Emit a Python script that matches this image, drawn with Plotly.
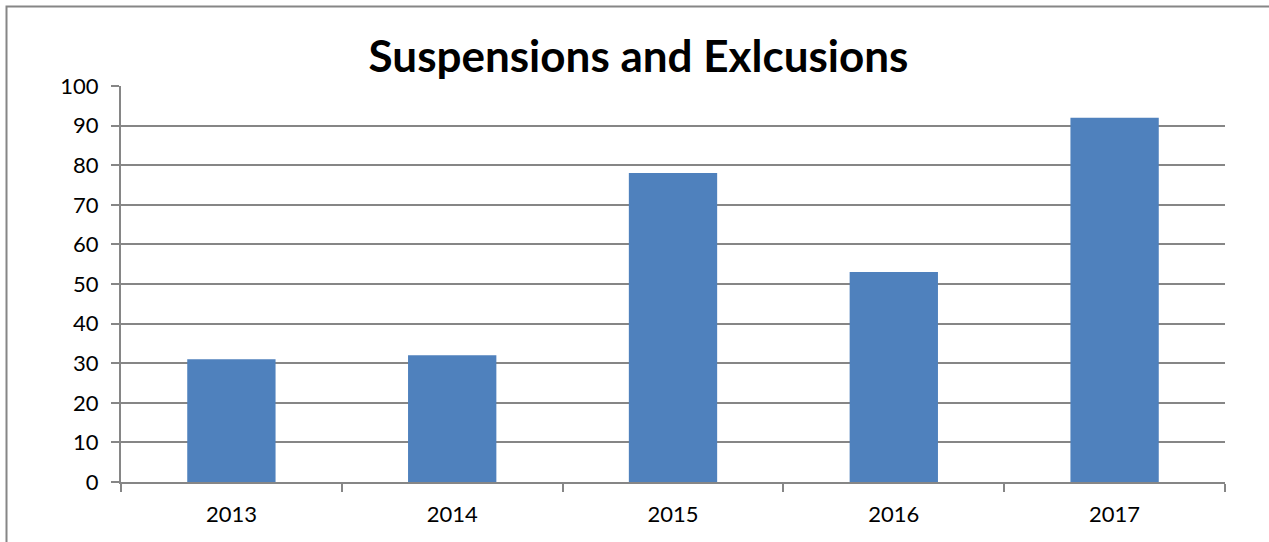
import plotly.graph_objects as go

years = ["2013", "2014", "2015", "2016", "2017"]
counts = [31, 32, 78, 53, 92]
y_ticks = [0, 10, 20, 30, 40, 50, 60, 70, 80, 90, 100]

fig = go.Figure(go.Bar(x=years, y=counts, marker=dict(color="#4F81BD", line=dict(width=0)), width=0.4))

fig.update_layout(
    width=1269, height=542,
    margin=dict(l=121, r=44, t=86, b=60),
    paper_bgcolor="white", plot_bgcolor="white",
    title=dict(text="<b>Suspensions and Exlcusions</b>", x=638.5/1269, xanchor="center",
               y=1 - 57/542, yanchor="middle",
               font=dict(family="Lato, Carlito, sans-serif", size=44, color="black")),
    font=dict(family="Lato, Carlito, sans-serif", size=22, color="black"),
    bargap=0.6,
    showlegend=False,
    shapes=[dict(type="rect", xref="paper", yref="paper",
                 x0=(6.5 - 121)/1104, x1=1.2, y0=-0.5, y1=1 + (86 - 6.5)/396,
                 line=dict(color="#868686", width=2), fillcolor="rgba(0,0,0,0)", layer="below")],
)
fig.update_xaxes(showline=True, linecolor="#868686", linewidth=2, ticks="outside", tickson="boundaries",
                 ticklen=8, tickcolor="#868686", tickwidth=2, showgrid=False, tickfont=dict(size=22),
                 ticklabelstandoff=12)
fig.update_yaxes(range=[0, 100], tickvals=y_ticks, showline=True, linecolor="#868686", linewidth=2,
                 ticks="outside", ticklen=8, tickcolor="#868686", tickwidth=2,
                 showgrid=True, gridcolor="#868686", gridwidth=1.5, zeroline=False, tickfont=dict(size=22),
                 ticklabelstandoff=8)

fig.write_html("out.html", config={"displayModeBar": False},
               post_script="document.body.style.margin='0';document.body.style.padding='0';")
